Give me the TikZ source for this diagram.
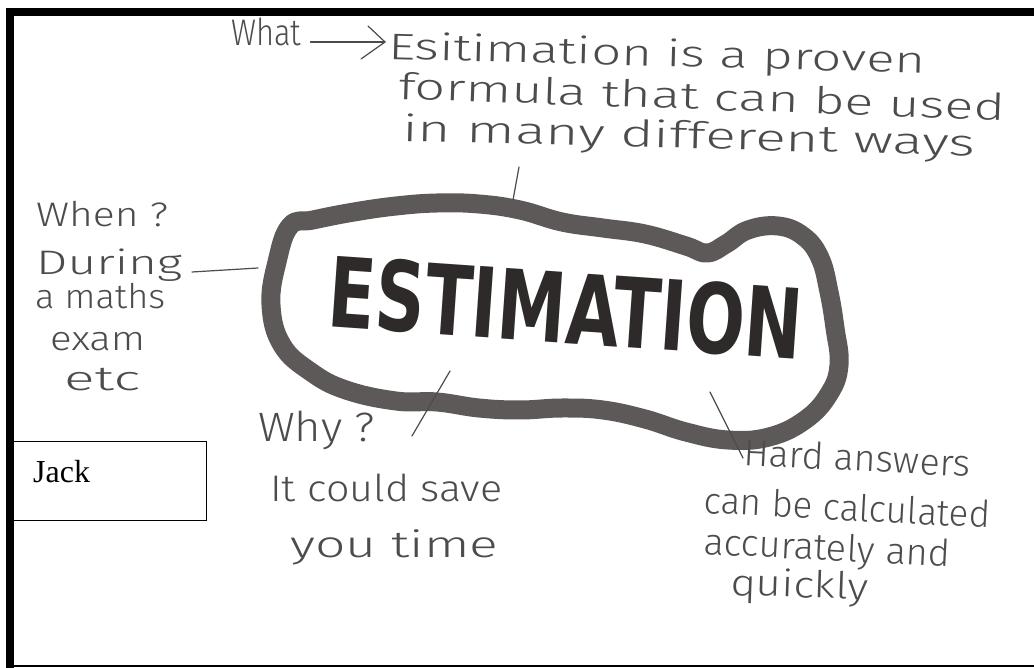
\documentclass[tikz,border=0pt]{standalone}
\usepackage{fontspec}
\setmainfont{Liberation Serif}
\newfontfamily\hand{Fira Sans Light}
\newfontfamily\marker{DejaVu Sans}
\definecolor{ink}{HTML}{4E4B4B}
\definecolor{bub}{HTML}{5E5959}
\definecolor{mark}{HTML}{2E2A2A}
\newcommand\hw[2]{\resizebox{#1pt}{\height}{#2}}
\begin{document}
\begin{tikzpicture}[x=1pt,y=-1pt,
  hwA/.style={anchor=base west, inner sep=0pt, text=ink, font=\hand\fontsize{37}{37}\selectfont},
  hwB/.style={anchor=base west, inner sep=0pt, text=ink, font=\hand\fontsize{34}{34}\selectfont},
  hwC/.style={anchor=base west, inner sep=0pt, text=ink, font=\hand\fontsize{37}{37}\selectfont},
  conn/.style={draw=ink, line width=1.2pt, line cap=round, line join=round}]
\useasboundingbox (0,0) rectangle (1034,668);
\fill[white] (0,0) rectangle (1034,668);
% frame
\fill[black] (6,8) rectangle (1034,16);
\fill[black] (6,8) rectangle (14,668);
\draw[line width=1.5pt] (6,666) -- (1034,666);
% Jack box
\node[draw, line width=1.2pt, minimum width=193pt, minimum height=79pt, anchor=north west, inner sep=0pt] (jackbox) at (13,441) {};
\node[anchor=base west, inner sep=0pt, font=\fontsize{32}{32}\selectfont] (jack) at (33,482) {Jack};
% bubble
\draw[bub, line width=19pt, line join=round] plot[smooth cycle, tension=0.7] coordinates {
(290,226) (277,262) (271,305) (282,345) (311,372) (346,390) (396,401) (437,402) (479,408) (520,410) (562,408) (603,410) (645,419) (686,432) (728,440) (769,437) (805,420) (829,394) (839,365) (835,328) (829,292) (820,258) (803,236) (778,226) (748,230) (726,244) (707,253) (686,246) (645,234) (603,228) (562,222) (520,210) (479,204) (437,203) (396,206) (354,212) (313,220)};
\node[rotate=-4, inner sep=0pt, text=mark] (est) at (566,308) {\marker\bfseries\resizebox{475pt}{72pt}{ESTIMATION}};
% top block
\node[hwB, font=\hand\fontsize{37}{37}\selectfont] (what) at (231,46) {\hw{70}{What}};
\node[hwA, rotate=-1.5] (e1) at (388,59) {\hw{537}{Esitimation is a proven}};
\node[hwA, rotate=-2] (e2) at (398,99) {\hw{607}{formula that can be used}};
\node[hwA, rotate=-1.5] (e3) at (402,141) {\hw{573}{in many different ways}};
\coordinate (arrS) at ([shift={(9,-4)}]what.base east);
\coordinate (arrT) at ([shift={(-3,-17)}]e1.base west);
\draw[conn] (arrS) -- (arrT);
\draw[conn] ([shift={(-17,-16)}]arrT) -- (arrT) -- ([shift={(-24,17)}]arrT);
% left block
\node[hwB] (when1) at (36,227) {\hw{132}{When ?}};
\node[hwB] (when2) at (36,275) {\hw{146}{During}};
\node[hwB] (when3) at (35,309) {\hw{130}{a maths}};
\node[hwB] (when4) at (50,351) {\hw{95}{exam}};
\node[hwB] (when5) at (64,391) {\hw{76}{etc}};
% why block
\node[hwC, font=\hand\fontsize{41}{41}\selectfont] (why1) at (258,441) {\hw{117}{Why ?}};
\node[hwC] (why2) at (270,501) {\hw{232}{It could save}};
\node[hwC] (why3) at (290,557) {\hw{208}{you time}};
% hard block
\node[hwC, rotate=-3] (hard1) at (743,465) {\hw{227}{Hard answers}};
\node[hwC, rotate=-3] (hard2) at (703,513) {\hw{287}{can be calculated}};
\node[hwC, rotate=-3] (hard3) at (703,554) {\hw{247}{accurately and}};
\node[hwC, rotate=-2] (hard4) at (730,595) {\hw{138}{quickly}};
% connectors
\coordinate (manyY) at (519,167);
\coordinate (bubTop) at (513,200);
\coordinate (whenEnd) at (192,272);
\coordinate (bubLeft) at (258,268);
\coordinate (whyEnd) at (412,436);
\coordinate (bubBot) at (450,371);
\coordinate (hardEnd) at (743,458);
\coordinate (bubBR) at (710,392);
\draw[conn] (manyY) -- (bubTop);
\draw[conn] (whenEnd) -- (bubLeft);
\draw[conn] (whyEnd) -- (bubBot);
\draw[conn] (hardEnd) -- (bubBR);
\end{tikzpicture}
\end{document}
